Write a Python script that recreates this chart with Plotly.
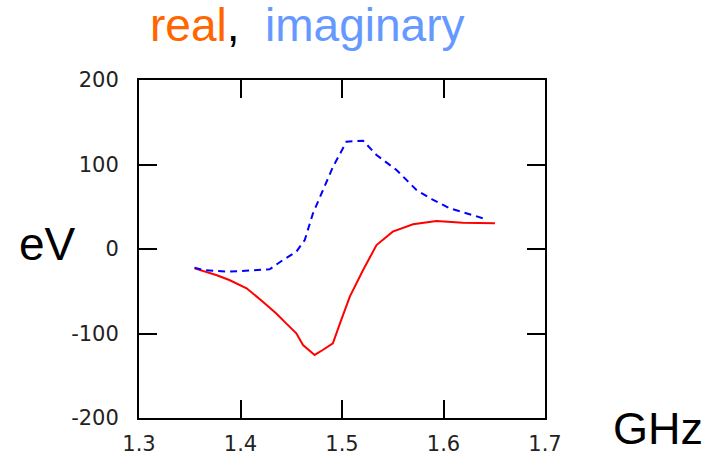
import plotly.graph_objects as go

# Data
real_x = [1.3547, 1.376, 1.389, 1.406, 1.422, 1.435, 1.445, 1.455, 1.4616, 1.473,
          1.481, 1.491, 1.498, 1.5077, 1.5208, 1.534, 1.550, 1.570, 1.593, 1.619, 1.6507]
real_y = [-22.9, -30.8, -36.7, -46.5, -62.3, -76.1, -88.0, -99.8, -113.6, -125.4,
          -119.5, -111.6, -88.0, -56.4, -24.9, 4.7, 20.5, 29.2, 33.1, 31.2, 30.4]

imag_x = [1.3547, 1.363, 1.389, 1.4287, 1.4418, 1.455, 1.4633, 1.4714, 1.4813, 1.4912,
          1.5044, 1.5208, 1.534, 1.5537, 1.5734, 1.5898, 1.6063, 1.6228, 1.6425]
imag_y = [-22.0, -24.9, -26.8, -24.0, -13.0, -3.2, 10.7, 42.2, 69.8, 97.4,
          127.0, 128.2, 111.2, 93.5, 69.8, 58.0, 48.1, 42.2, 35.1]

x_ticks = [1.3, 1.4, 1.5, 1.6, 1.7]
x_tick_labels = ["1.3", "1.4", "1.5", "1.6", "1.7"]
y_ticks = [-200, -100, 0, 100, 200]
y_tick_labels = ["-200", "-100", "0", "100", "200"]

fig = go.Figure()
fig.add_trace(go.Scatter(x=real_x, y=real_y, mode="lines",
                         line=dict(color="#FF0000", width=2), showlegend=False))
fig.add_trace(go.Scatter(x=imag_x, y=imag_y, mode="lines",
                         line=dict(color="#0000FF", width=2, dash="7px,5px"), showlegend=False))

axis_common = dict(showgrid=False, zeroline=False, showline=True, linecolor="black",
                   linewidth=2, mirror="ticks", ticks="inside", tickcolor="black",
                   tickwidth=2, ticklen=18, automargin=False,
                   tickfont=dict(family="DejaVu Sans", size=21, color="#222222"))

fig.update_xaxes(range=[1.3, 1.7], tickvals=x_ticks, ticktext=x_tick_labels,
                 ticklabelstandoff=6, **axis_common)
fig.update_yaxes(range=[-200, 200], tickvals=y_ticks, ticktext=y_tick_labels,
                 ticklabelstandoff=14, **axis_common)

L, R, T, B = 139, 545, 80, 418
def px(xp):
    return (xp - L) / (R - L)
def py(yp):
    return (B - yp) / (B - T)

fig.add_annotation(xref="paper", yref="paper", x=px(307), y=py(25),
                   text="<span style='color:#FF6600'>real</span>,\u00a0\u00a0<span style='color:#6699FF'>imaginary</span>",
                   showarrow=False, font=dict(family="Liberation Sans", size=46, color="black"),
                   xanchor="center", yanchor="middle")
fig.add_annotation(xref="paper", yref="paper", x=px(47), y=py(244),
                   text="eV", showarrow=False,
                   font=dict(family="Liberation Sans", size=46, color="black"),
                   xanchor="center", yanchor="middle")
fig.add_annotation(xref="paper", yref="paper", x=px(658), y=py(456),
                   text="GHz", showarrow=False,
                   font=dict(family="Liberation Sans", size=45, color="black"),
                   xanchor="center", yanchor="bottom")

fig.update_layout(width=720, height=457, plot_bgcolor="white", paper_bgcolor="white",
                  margin=dict(l=L, r=720 - R, t=T, b=457 - B))

fig.write_html("out.html")
